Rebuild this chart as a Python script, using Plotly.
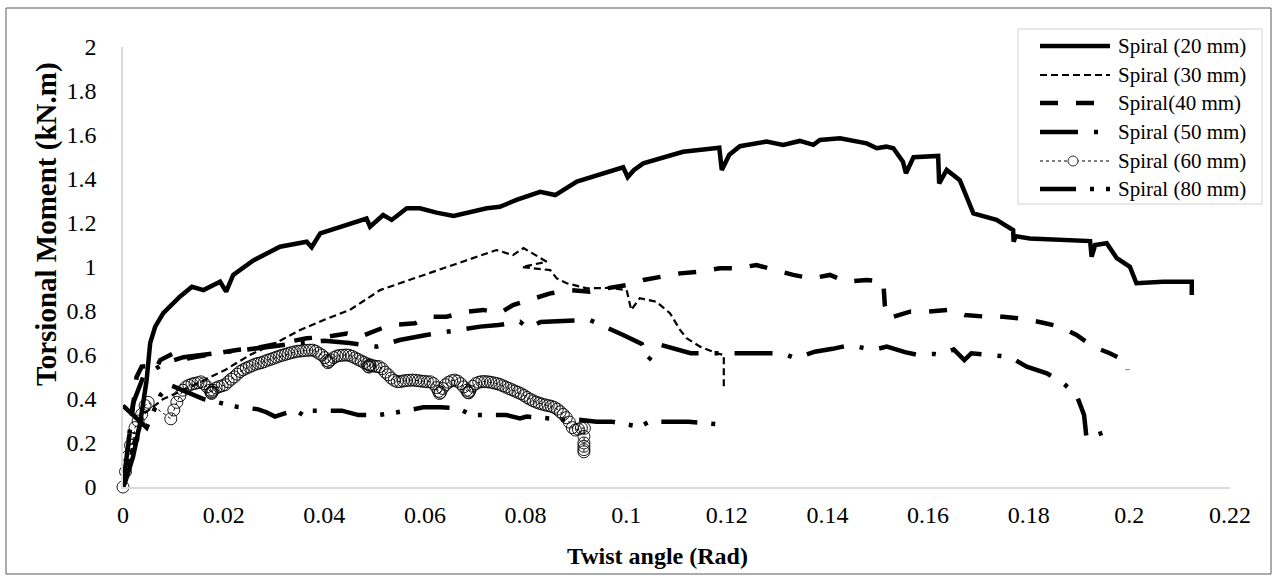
import plotly.graph_objects as go

# ---- Axis ticks ----
x_ticks = [0, 0.02, 0.04, 0.06, 0.08, 0.1, 0.12, 0.14, 0.16, 0.18, 0.2, 0.22]
x_tick_labels = ["0", "0.02", "0.04", "0.06", "0.08", "0.1", "0.12", "0.14", "0.16", "0.18", "0.2", "0.22"]
y_ticks = [0, 0.2, 0.4, 0.6, 0.8, 1.0, 1.2, 1.4, 1.6, 1.8, 2.0]
y_tick_labels = ["0", "0.2", "0.4", "0.6", "0.8", "1", "1.2", "1.4", "1.6", "1.8", "2"]

series_names = ["Spiral (20 mm)", "Spiral (30 mm)", "Spiral(40 mm)",
                "Spiral (50 mm)", "Spiral (60 mm)", "Spiral (80 mm)"]

# ---- Spiral 20 mm ----
s20_x = [0, 0.0004, 0.002, 0.0034, 0.0047, 0.0054, 0.0064, 0.008, 0.0113, 0.0137, 0.016,
         0.0193, 0.0205, 0.0219, 0.0259, 0.0312, 0.0365, 0.0375, 0.0392, 0.0484, 0.0491,
         0.0517, 0.0534, 0.0564, 0.059, 0.0623, 0.0657, 0.0723, 0.0749, 0.0782, 0.0829,
         0.0859, 0.0902, 0.0994, 0.1003, 0.1015, 0.1034, 0.1113, 0.1185, 0.119, 0.1205,
         0.1226, 0.1279, 0.1312, 0.1345, 0.1372, 0.1385, 0.1425, 0.1478, 0.1498, 0.1517,
         0.1531, 0.155, 0.1556, 0.1571, 0.162, 0.1622, 0.1637, 0.1663, 0.169, 0.1736,
         0.1769, 0.177, 0.1774, 0.1802, 0.1922, 0.1925, 0.1932, 0.1955, 0.1975, 0.2001,
         0.2014, 0.2067, 0.2124, 0.2124]
s20_y = [0, 0.02, 0.138, 0.29, 0.486, 0.654, 0.729, 0.79, 0.865, 0.91, 0.895,
         0.933, 0.888, 0.964, 1.03, 1.092, 1.115, 1.09, 1.153, 1.22, 1.183,
         1.236, 1.214, 1.267, 1.267, 1.247, 1.232, 1.267, 1.274, 1.305, 1.342,
         1.327, 1.388, 1.453, 1.408, 1.44, 1.471, 1.524, 1.542, 1.441, 1.51,
         1.549, 1.57, 1.555, 1.573, 1.555, 1.577, 1.585, 1.562, 1.54, 1.547,
         1.54, 1.479, 1.426, 1.499, 1.505, 1.38, 1.441, 1.395, 1.244, 1.214,
         1.168, 1.115, 1.14, 1.13, 1.118, 1.047, 1.1, 1.108, 1.04, 1.001,
         0.926, 0.933, 0.933, 0.873]

# ---- Spiral 30 mm ----
s30_x = [0, 0.001, 0.002, 0.004, 0.008, 0.012, 0.0173, 0.0203, 0.0252, 0.03, 0.0352,
         0.04, 0.0451, 0.0511, 0.055, 0.0643, 0.0742, 0.0775, 0.0796, 0.0842, 0.0793,
         0.0849, 0.0862, 0.0882, 0.0922, 0.0968, 0.1001, 0.101, 0.1027, 0.106, 0.1087,
         0.1107, 0.112, 0.1147, 0.118, 0.1194, 0.1194]
s30_y = [0, 0.1, 0.2, 0.33, 0.4, 0.44, 0.5, 0.532, 0.6, 0.65, 0.714,
         0.76, 0.805, 0.895, 0.926, 1.0, 1.077, 1.054, 1.086, 1.024, 1.0,
         0.986, 0.948, 0.926, 0.903, 0.905, 0.895, 0.805, 0.858, 0.842, 0.79,
         0.714, 0.676, 0.638, 0.608, 0.6, 0.456]

# ---- Spiral 40 mm ----
s40_x = [0, 0.0015, 0.0027, 0.0037, 0.005, 0.0064, 0.0074, 0.0107, 0.013, 0.0146, 0.018,
         0.0226, 0.026, 0.0292, 0.0325, 0.0365, 0.0405, 0.0445, 0.0471, 0.0504, 0.053,
         0.058, 0.061, 0.0643, 0.0683, 0.0716, 0.0749, 0.0775, 0.0815, 0.0849, 0.0888,
         0.0928, 0.0961, 0.1001, 0.1034, 0.1074, 0.1107, 0.1147, 0.1186, 0.1219, 0.1259,
         0.1296, 0.1332, 0.1368, 0.1405, 0.1438, 0.1478, 0.1511, 0.1514, 0.1521, 0.1564,
         0.1597, 0.1643, 0.1673, 0.1716, 0.1749, 0.1789, 0.1826, 0.1862, 0.1895, 0.1928,
         0.1961, 0.1994, 0.1996]
s40_y = [0, 0.3, 0.5, 0.547, 0.55, 0.53, 0.577, 0.615, 0.585, 0.592, 0.607,
         0.623, 0.63, 0.645, 0.66, 0.676, 0.683, 0.698, 0.683, 0.714, 0.736,
         0.744, 0.774, 0.774, 0.797, 0.805, 0.79, 0.827, 0.858, 0.88, 0.895,
         0.888, 0.903, 0.918, 0.941, 0.956, 0.971, 0.979, 0.994, 0.994, 1.009,
         0.986, 0.964, 0.948, 0.964, 0.933, 0.941, 0.933, 0.827, 0.767, 0.797,
         0.797, 0.805, 0.782, 0.774, 0.774, 0.764, 0.748, 0.729, 0.691, 0.638,
         0.608, 0.57, 0.532]

# ---- Spiral 50 mm ----
s50_x = [0, 0.001, 0.002, 0.004, 0.008, 0.012, 0.016, 0.02, 0.025, 0.03, 0.035,
         0.04, 0.045, 0.0504, 0.0514, 0.055, 0.06, 0.0643, 0.071, 0.0746, 0.0789,
         0.0805, 0.083, 0.0885, 0.0928, 0.0994, 0.1031, 0.1044, 0.107, 0.1128, 0.1167,
         0.1243, 0.1276, 0.1312, 0.1336, 0.1375, 0.141, 0.1445, 0.149, 0.1518, 0.1554,
         0.1577, 0.1612, 0.1624, 0.1651, 0.1672, 0.1686, 0.1762, 0.1796, 0.1836, 0.1869,
         0.1895, 0.191, 0.1915, 0.1925, 0.1948, 0.1948]
s50_y = [0, 0.2, 0.38, 0.5, 0.56, 0.59, 0.6, 0.61, 0.625, 0.64, 0.655,
         0.665, 0.655, 0.638, 0.645, 0.668, 0.69, 0.706, 0.729, 0.736, 0.751,
         0.723, 0.75, 0.756, 0.759, 0.691, 0.65, 0.577, 0.645, 0.608, 0.608,
         0.606, 0.603, 0.608, 0.585, 0.615, 0.628, 0.645, 0.623, 0.638, 0.613,
         0.602, 0.605, 0.6, 0.625, 0.577, 0.608, 0.592, 0.547, 0.517, 0.471,
         0.418, 0.327, 0.22, 0.229, 0.247, 0.225]

# ---- Spiral 60 mm ----
s60_x = [0, 0.0005, 0.001, 0.0015, 0.002, 0.0024, 0.003, 0.0037, 0.0044, 0.005,
         0.0095, 0.0101, 0.0107, 0.0113, 0.0119, 0.0125, 0.0131, 0.0137, 0.0143, 0.0149,
         0.0155, 0.0161, 0.0167, 0.0173, 0.0175, 0.0176, 0.0177, 0.0179, 0.0185, 0.0191,
         0.0197, 0.0203, 0.0209, 0.0215, 0.0221, 0.0227, 0.0233, 0.0239, 0.0245, 0.0251,
         0.0257, 0.0263, 0.0269, 0.0275, 0.0281, 0.0287, 0.0293, 0.0299, 0.0305, 0.0311,
         0.0317, 0.0323, 0.0329, 0.0335, 0.0341, 0.0347, 0.0353, 0.0359, 0.0365, 0.0371,
         0.0377, 0.0383, 0.0389, 0.0395, 0.0401, 0.0405, 0.0407, 0.0409, 0.0413, 0.0419,
         0.0425, 0.0431, 0.0437, 0.0443, 0.0449, 0.0455, 0.0461, 0.0467, 0.0473, 0.0479,
         0.0485, 0.0487, 0.0489, 0.049, 0.0491, 0.0497, 0.0503, 0.0509, 0.0515, 0.0521,
         0.0527, 0.0533, 0.0539, 0.0545, 0.0551, 0.0557, 0.0563, 0.0569, 0.0575, 0.0581,
         0.0587, 0.0593, 0.0599, 0.0605, 0.0611, 0.0617, 0.0623, 0.0627, 0.0629, 0.0631,
         0.0635, 0.0641, 0.0647, 0.0653, 0.0659, 0.0665, 0.0671, 0.0677, 0.0683, 0.0685,
         0.0687, 0.0689, 0.0695, 0.0701, 0.0707, 0.0713, 0.0719, 0.0725, 0.0731, 0.0737,
         0.0743, 0.0749, 0.0755, 0.0761, 0.0767, 0.0773, 0.0779, 0.0785, 0.0791, 0.0797,
         0.0803, 0.0809, 0.0815, 0.0821, 0.0827, 0.0833, 0.0839, 0.0845, 0.0851, 0.0857,
         0.0863, 0.0869, 0.0875, 0.0881, 0.0887, 0.0893, 0.0899, 0.0905, 0.0911, 0.0917,
         0.0916, 0.0916, 0.0916, 0.0916, 0.0916]
s60_y = [0, 0.07, 0.14, 0.19, 0.22, 0.27, 0.3, 0.33, 0.37, 0.385,
         0.31, 0.35, 0.385, 0.415, 0.44, 0.455, 0.462, 0.468, 0.471, 0.474,
         0.478, 0.47, 0.455, 0.44, 0.43, 0.425, 0.432, 0.44, 0.45, 0.456,
         0.46, 0.465, 0.478, 0.49, 0.5, 0.513, 0.525, 0.533, 0.54, 0.546,
         0.552, 0.558, 0.562, 0.565, 0.57, 0.576, 0.58, 0.585, 0.59, 0.595,
         0.599, 0.603, 0.607, 0.611, 0.614, 0.617, 0.618, 0.62, 0.621, 0.622,
         0.622, 0.617, 0.608, 0.6, 0.588, 0.575, 0.565, 0.57, 0.578, 0.588,
         0.595, 0.598, 0.599, 0.6, 0.599, 0.594, 0.587, 0.58, 0.573, 0.566,
         0.56, 0.548, 0.545, 0.553, 0.555, 0.551, 0.548, 0.547, 0.538, 0.522,
         0.51, 0.495, 0.485, 0.479, 0.479, 0.482, 0.484, 0.485, 0.486, 0.485,
         0.483, 0.481, 0.48, 0.478, 0.478, 0.47, 0.452, 0.435, 0.425, 0.43,
         0.448, 0.465, 0.476, 0.483, 0.486, 0.481, 0.47, 0.455, 0.44, 0.43,
         0.428, 0.436, 0.458, 0.47, 0.476, 0.479, 0.479, 0.478, 0.476, 0.473,
         0.47, 0.466, 0.46, 0.454, 0.448, 0.442, 0.436, 0.43, 0.424, 0.416,
         0.407, 0.399, 0.392, 0.386, 0.381, 0.377, 0.373, 0.37, 0.367, 0.362,
         0.354, 0.342, 0.33, 0.315, 0.295, 0.27, 0.259, 0.263, 0.268, 0.267,
         0.23, 0.2, 0.185, 0.17, 0.16]

# ---- Spiral 80 mm ----
s80_x = [0, 0.0025, 0.0047, 0.006, 0.0075, 0.0093, 0.012, 0.016, 0.0226, 0.0269, 0.0285,
         0.0302, 0.0342, 0.0358, 0.0368, 0.0435, 0.0468, 0.0508, 0.0534, 0.0573, 0.0597,
         0.063, 0.0666, 0.0693, 0.0733, 0.0762, 0.0789, 0.0802, 0.0872, 0.0911, 0.0941,
         0.0971, 0.1027, 0.1046, 0.1084, 0.1124, 0.1199]
s80_y = [0.37, 0.32, 0.27, 0.34, 0.42, 0.464, 0.44, 0.4, 0.365, 0.353, 0.34,
         0.32, 0.35, 0.327, 0.347, 0.347, 0.327, 0.327, 0.335, 0.353, 0.362,
         0.362, 0.358, 0.327, 0.327, 0.327, 0.312, 0.32, 0.307, 0.305, 0.297,
         0.297, 0.274, 0.297, 0.297, 0.297, 0.282]

FONT = "Liberation Serif, Times New Roman, serif"
INK = "#000000"

# line styles for each series (shared by plot traces and legend samples)
styles = [
    dict(width=4.5, dash="solid"),
    dict(width=2.2, dash="7px,4px"),
    dict(width=4.5, dash="18px,18px"),
    dict(width=4.5, dash="38px,16px,4px,16px"),
    dict(width=1.0, dash="3px,3px"),
    dict(width=4.5, dash="36px,14px,4px,12px,4px,14px"),
]

fig = go.Figure()
data = [(s20_x, s20_y), (s30_x, s30_y), (s40_x, s40_y), (s50_x, s50_y), (s60_x, s60_y), (s80_x, s80_y)]
for i, (xs, ys) in enumerate(data):
    st = styles[i]
    if i == 4:
        fig.add_trace(go.Scatter(
            x=xs, y=ys, name=series_names[i], mode="lines+markers",
            line=dict(color=INK, width=st["width"], dash=st["dash"]),
            marker=dict(symbol="circle-open", size=12, color=INK, line=dict(width=0.9, color=INK)),
            cliponaxis=False))
    else:
        fig.add_trace(go.Scatter(
            x=xs, y=ys, name=series_names[i], mode="lines",
            line=dict(color=INK, width=st["width"], dash=st["dash"]),
            cliponaxis=False))

# ---- Plot geometry (pixels) ----
W, H = 1277, 580
L, R, T, B = 123, 47, 47, 93
PW, PH = W - L - R, H - T - B


def px_x(p):
    return (p - L) / PW


def px_y(p):
    return (H - B - p) / PH


shapes = []
# outer frame
shapes.append(dict(type="rect", xref="paper", yref="paper",
                   x0=px_x(6), x1=px_x(1271), y0=px_y(574), y1=px_y(8),
                   line=dict(color="#595959", width=1), fillcolor="rgba(0,0,0,0)", layer="below"))
# legend box
shapes.append(dict(type="rect", xref="paper", yref="paper",
                   x0=px_x(1018), x1=px_x(1262), y0=px_y(204), y1=px_y(29),
                   line=dict(color="#d0d0d0", width=1), fillcolor="white", layer="above"))

annotations = []
row_y = [46, 75, 103, 132, 161, 189]
for i, ry in enumerate(row_y):
    st = styles[i]
    shapes.append(dict(type="line", xref="paper", yref="paper",
                       x0=px_x(1040), x1=px_x(1110), y0=px_y(ry), y1=px_y(ry),
                       line=dict(color=INK, width=st["width"], dash=st["dash"]), layer="above"))
    annotations.append(dict(xref="paper", yref="paper", x=px_x(1116), y=px_y(ry),
                            text=series_names[i], showarrow=False, xanchor="left", yanchor="middle",
                            font=dict(family=FONT, size=21, color=INK)))
# marker sample for the 60 mm series
shapes.append(dict(type="circle", xref="paper", yref="paper",
                   x0=px_x(1068), x1=px_x(1078), y0=px_y(166), y1=px_y(156),
                   line=dict(color=INK, width=0.8), fillcolor="white", layer="above"))

annotations.append(dict(xref="paper", yref="paper", x=px_x(657), y=px_y(556),
                        text="<b>Twist angle (Rad)</b>", showarrow=False,
                        xanchor="center", yanchor="middle",
                        font=dict(family=FONT, size=24, color=INK)))
annotations.append(dict(xref="paper", yref="paper", x=px_x(47), y=px_y(224),
                        text="<b>Torsional Moment (kN.m)</b>", showarrow=False, textangle=-90,
                        xanchor="center", yanchor="middle",
                        font=dict(family=FONT, size=29, color=INK)))

fig.update_layout(
    width=W, height=H,
    margin=dict(l=L, r=R, t=T, b=B),
    paper_bgcolor="white", plot_bgcolor="white",
    showlegend=False,
    shapes=shapes, annotations=annotations,
    font=dict(family=FONT, color=INK),
    xaxis=dict(range=[0, 0.22], tickvals=x_ticks, ticktext=x_tick_labels,
               showgrid=False, zeroline=False, showline=True, linecolor="#d9d9d9", linewidth=1.5,
               ticks="", ticklabelstandoff=5, tickfont=dict(family=FONT, size=24, color=INK)),
    yaxis=dict(range=[0, 2], tickvals=y_ticks, ticktext=y_tick_labels,
               showgrid=False, zeroline=False, showline=True, linecolor="#d9d9d9", linewidth=1.5,
               ticks="", ticklabelstandoff=20, tickfont=dict(family=FONT, size=24, color=INK)),
)

fig.write_html("out.html")
